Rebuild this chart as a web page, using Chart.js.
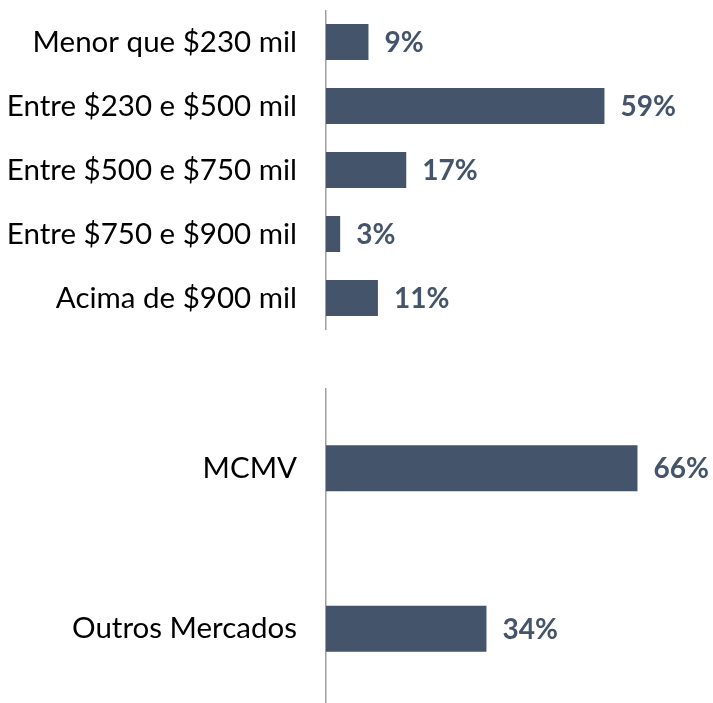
<!DOCTYPE html>
<html>
<head>
<meta charset="utf-8">
<script src="https://cdn.jsdelivr.net/npm/chart.js@4"></script>
<style>
  html,body{margin:0;padding:0;background:#fff;overflow:hidden;width:713px;height:703px;}
  canvas{position:absolute;left:0;}
</style>
</head>
<body>
<canvas id="c1" width="713" height="320" style="top:10px;width:713px;height:320px;"></canvas>
<canvas id="c2" width="713" height="321" style="top:388px;width:713px;height:321px;"></canvas>
<script>
const faixaCategorias = ["Menor que $230 mil", "Entre $230 e $500 mil", "Entre $500 e $750 mil", "Entre $750 e $900 mil", "Acima de $900 mil"];
const faixaValores = [9, 59, 17, 3, 11];
const mercadoCategorias = ["MCMV", "Outros Mercados"];
const mercadoValores = [66, 34];

const BAR = '#44546A';
const FONT = "Lato, 'Open Sans', sans-serif";

const valueLabels = {
  id: 'valueLabels',
  afterDatasetsDraw(chart) {
    const ctx = chart.ctx;
    const meta = chart.getDatasetMeta(0);
    const ds = chart.data.datasets[0].data;
    ctx.save();
    ctx.font = "bold 28px " + FONT;
    ctx.fillStyle = BAR;
    ctx.textAlign = 'left';
    ctx.textBaseline = 'middle';
    meta.data.forEach((el, i) => {
      ctx.fillText(ds[i] + '%', el.x + 16, el.y + 1);
    });
    ctx.restore();
  }
};

function makeChart(id, labels, values, catPct) {
  return new Chart(document.getElementById(id), {
    type: 'bar',
    data: {
      labels: labels,
      datasets: [{ data: values, backgroundColor: BAR, borderWidth: 0, barPercentage: 1, categoryPercentage: catPct }]
    },
    options: {
      indexAxis: 'y',
      responsive: false,
      animation: false,
      devicePixelRatio: 1,
      layout: { padding: 0 },
      plugins: { legend: { display: false }, tooltip: { enabled: false } },
      scales: {
        x: { display: false, min: 0, max: 82 },
        y: {
          grid: { display: false, drawTicks: false },
          border: { display: true, color: '#a0a0a0', width: 1.5 },
          ticks: { color: '#000', font: { family: FONT, size: 29.5 }, padding: 29 },
          afterFit(scale) { scale.width = 326; scale.paddingTop = 0; scale.paddingBottom = 0; }
        }
      }
    },
    plugins: [valueLabels]
  });
}

makeChart('c1', faixaCategorias, faixaValores, 0.5625);
makeChart('c2', mercadoCategorias, mercadoValores, 0.287);
</script>
</body>
</html>
